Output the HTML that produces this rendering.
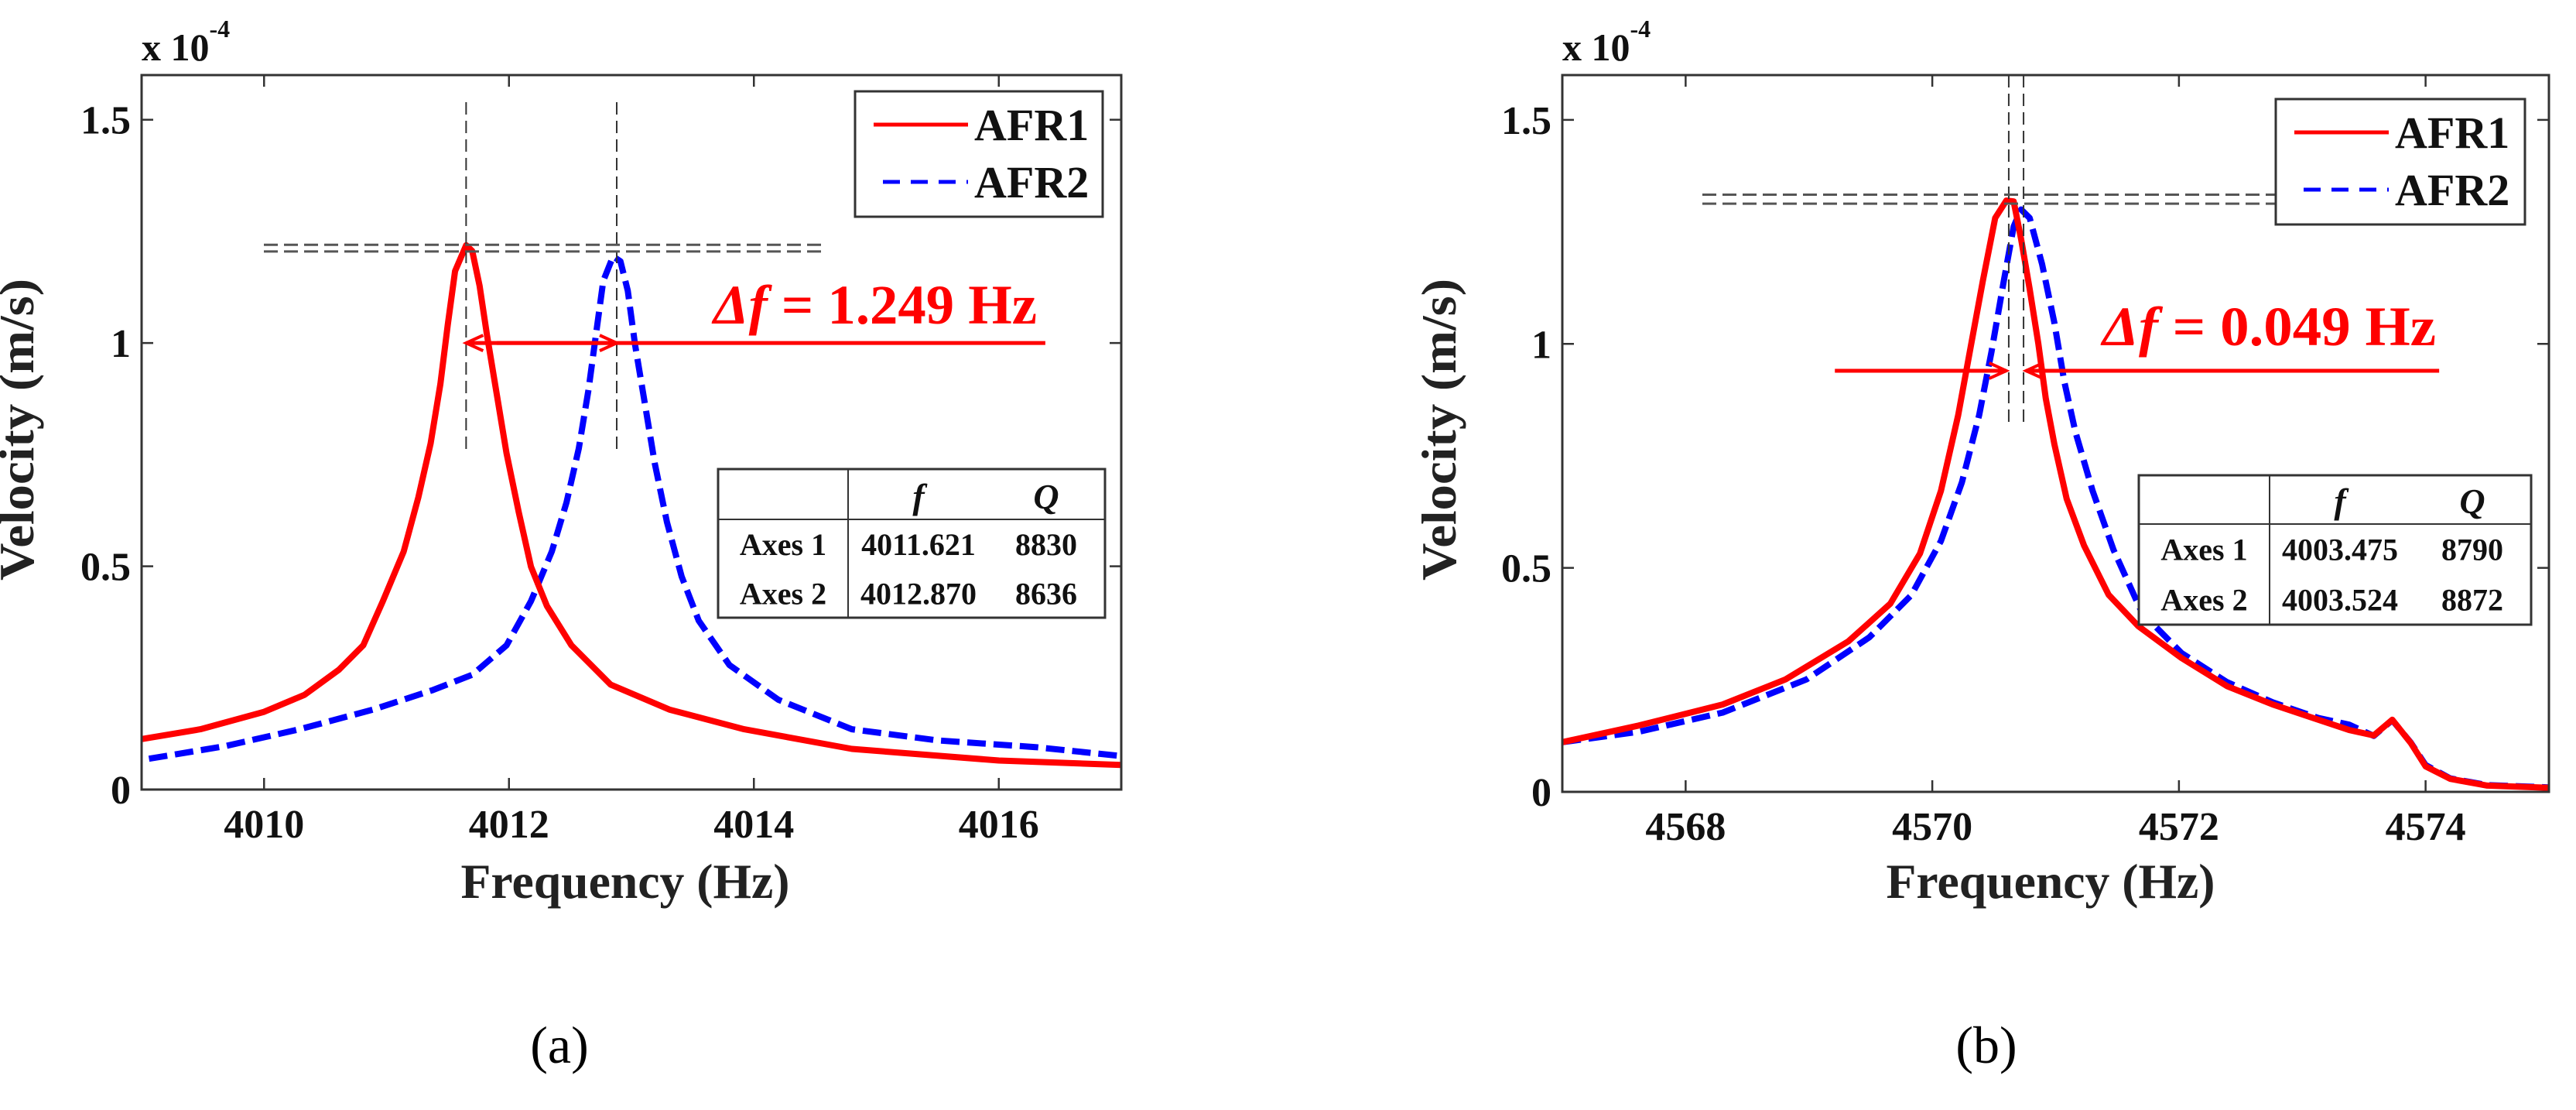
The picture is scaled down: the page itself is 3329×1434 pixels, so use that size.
<!DOCTYPE html>
<html><head><meta charset="utf-8"><style>
html,body{margin:0;padding:0;background:#fff;}
svg{display:block;font-family:"Liberation Serif",serif;}
</style></head><body>
<svg id="fig" width="3329" height="1434" viewBox="0 0 3329 1434" xmlns="http://www.w3.org/2000/svg"></svg>
<script>
// Panel (a)
const freqA1 = [4009.0,4009.48,4010.0,4010.33,4010.61,4010.81,4010.97,4011.14,4011.26,4011.36,4011.44,4011.50,4011.56,4011.65,4011.70,4011.76,4011.82,4011.90,4011.98,4012.08,4012.18,4012.31,4012.51,4012.83,4013.31,4013.92,4014.80,4016.0,4017.0];
const velA1 = [0.113,0.135,0.174,0.212,0.268,0.323,0.422,0.533,0.654,0.775,0.908,1.040,1.161,1.219,1.206,1.128,1.018,0.886,0.753,0.621,0.499,0.411,0.323,0.235,0.179,0.135,0.091,0.065,0.055];
const freqA2 = [4009.06,4009.68,4010.29,4010.89,4011.38,4011.70,4011.98,4012.18,4012.35,4012.47,4012.57,4012.65,4012.71,4012.77,4012.85,4012.91,4012.97,4013.03,4013.11,4013.19,4013.29,4013.41,4013.55,4013.80,4014.20,4014.80,4015.5,4016.3,4017.0];
const velA2 = [0.069,0.097,0.135,0.179,0.223,0.257,0.323,0.422,0.533,0.643,0.764,0.896,1.018,1.139,1.194,1.183,1.117,0.996,0.864,0.731,0.599,0.477,0.378,0.279,0.201,0.135,0.11,0.095,0.075];
// Panel (b)
const freqB1 = [4567.0,4567.62,4568.30,4568.81,4569.32,4569.66,4569.90,4570.07,4570.21,4570.31,4570.41,4570.51,4570.60,4570.66,4570.72,4570.79,4570.86,4570.92,4570.99,4571.09,4571.23,4571.43,4571.67,4572.02,4572.39,4572.76,4573.13,4573.38,4573.58,4573.73,4573.88,4574.0,4574.2,4574.5,4575.0];
const velB1 = [0.111,0.148,0.195,0.251,0.336,0.42,0.532,0.672,0.841,0.991,1.141,1.281,1.320,1.318,1.234,1.122,1.000,0.878,0.776,0.654,0.55,0.44,0.37,0.299,0.236,0.195,0.161,0.138,0.126,0.161,0.109,0.057,0.029,0.014,0.009];
const freqB2 = [4567.0,4567.62,4568.30,4568.98,4569.49,4569.83,4570.07,4570.24,4570.38,4570.48,4570.58,4570.66,4570.72,4570.79,4570.89,4570.99,4571.07,4571.16,4571.30,4571.47,4571.70,4572.02,4572.39,4572.76,4573.13,4573.38,4573.58,4573.73,4573.88,4574.0,4574.2,4574.5,4575.0];
const velB2 = [0.111,0.134,0.177,0.251,0.345,0.439,0.56,0.691,0.841,0.982,1.141,1.262,1.30,1.281,1.178,1.047,0.916,0.804,0.672,0.54,0.40,0.31,0.245,0.2,0.165,0.15,0.125,0.16,0.11,0.06,0.03,0.015,0.01];
const yTicks = [0,0.5,1,1.5];
const yTickLabels = ["0","0.5","1","1.5"];
const xTicksA = [4010,4012,4014,4016];
const xTicksB = [4568,4570,4572,4574];
const peaksA = [4011.65,4012.88];
const peakValsA = [1.22,1.205];
const peaksB = [4570.62,4570.74];
const peakValsB = [1.333,1.313];
const tableA = [["Axes 1","4011.621","8830"],["Axes 2","4012.870","8636"]];
const tableB = [["Axes 1","4003.475","8790"],["Axes 2","4003.524","8872"]];

const NS="http://www.w3.org/2000/svg";
const svg=document.getElementById('fig');
function mk(tag,attrs,parent,text){const e=document.createElementNS(NS,tag);for(const k in attrs)e.setAttribute(k,attrs[k]);if(text!==undefined)e.textContent=text;(parent||svg).appendChild(e);return e;}

function panel(cfg){
  const g=mk('g',{});
  
  
  const L=cfg.left,R=cfg.right,T=97,B=cfg.bottom;
  const xs=f=>L+(f-cfg.xmin)/(cfg.xmax-cfg.xmin)*(R-L);
  const ys=v=>B-v/1.6*(B-T);
  const p1=cfg.f1.map((f,i)=>xs(f).toFixed(1)+','+ys(cfg.v1[i]).toFixed(1)).join(' ');
  const p2=cfg.f2.map((f,i)=>xs(f).toFixed(1)+','+ys(cfg.v2[i]).toFixed(1)).join(' ');
  const c2=mk('polyline',{points:p2,fill:'none',stroke:'#0000ff','stroke-width':8,'stroke-dasharray':'24 10','stroke-linejoin':'round'},g);
  
  
  const c1=mk('polyline',{points:p1,fill:'none',stroke:'#ff0000','stroke-width':8,'stroke-linejoin':'round'},g);
  
  
  cfg.peaks.forEach(pf=>{const l=mk('line',{x1:xs(pf),x2:xs(pf),y1:cfg.vTop,y2:cfg.vBot,stroke:'#333','stroke-width':2,'stroke-dasharray':'16 8'},g);
    
    });
  cfg.peakVals.forEach(pv=>{const l=mk('line',{x1:cfg.hx1,x2:cfg.hx2,y1:ys(pv),y2:ys(pv),stroke:'#555','stroke-width':3,'stroke-dasharray':'18 8'},g);
    
    });
  const ay=ys(cfg.arrowV);
  cfg.arrows.forEach(a=>{
    const l=mk('line',{x1:xs(a[0]),x2:xs(a[1]),y1:ay,y2:ay,stroke:'#ff0000','stroke-width':5},g);
    
    
    const tx=xs(a[1]),d=a[1]>a[0]?-1:1;
    const h=mk('polyline',{points:`${tx+d*22},${ay-10} ${tx},${ay} ${tx+d*22},${ay+10}`,fill:'none',stroke:'#ff0000','stroke-width':4},g);
    
    
  });
  const dt=mk('text',{x:cfg.dfx,y:cfg.dfy,fill:'#ff0000','font-size':72,'font-weight':'bold',textLength:cfg.dfw,lengthAdjust:'spacingAndGlyphs'},g);
  
  
  mk('tspan',{'font-style':'italic'},dt,'Δf');
  mk('tspan',{},dt,' = '+cfg.dfText+'  Hz');
  const box=mk('rect',{x:L,y:T,width:R-L,height:B-T,fill:'none',stroke:'#333','stroke-width':3},g);
  
  
  cfg.xt.forEach(t=>{const x=xs(t);
    mk('line',{x1:x,x2:x,y1:B,y2:B-15,stroke:'#333','stroke-width':2.5},g);
    mk('line',{x1:x,x2:x,y1:T,y2:T+15,stroke:'#333','stroke-width':2.5},g);
    const tl=mk('text',{x:x,y:cfg.xlabY,'text-anchor':'middle','font-size':52,'font-weight':'bold',fill:'#111'},g,String(t));
    
    });
  yTicks.forEach((t,i)=>{const y=ys(t);
    mk('line',{x1:L,x2:L+15,y1:y,y2:y,stroke:'#333','stroke-width':2.5},g);
    mk('line',{x1:R,x2:R-15,y1:y,y2:y,stroke:'#333','stroke-width':2.5},g);
    const tl=mk('text',{x:L-14,y:y+18,'text-anchor':'end','font-size':52,'font-weight':'bold',fill:'#111'},g,yTickLabels[i]);
    
    });
  const ex=mk('text',{x:L,y:78,'font-size':50,'font-weight':'bold',fill:'#111'},g);
  
  
  mk('tspan',{},ex,'x 10');
  mk('tspan',{dy:-30,'font-size':32},ex,'-4');
  const xl=mk('text',{x:cfg.xTitleX,y:1160,'text-anchor':'middle','font-size':64,'font-weight':'bold',fill:'#222',textLength:425,lengthAdjust:'spacingAndGlyphs'},g,'Frequency (Hz)');
  
  
  const yl=mk('text',{x:0,y:0,'text-anchor':'middle','font-size':64,'font-weight':'bold',fill:'#222',textLength:390,lengthAdjust:'spacingAndGlyphs',transform:`translate(${cfg.yTitleX},555) rotate(-90)`},g,'Velocity (m/s)');
  
  
  const lg=mk('g',{},g);
  
  
  mk('rect',{x:cfg.lg[0],y:cfg.lg[1],width:cfg.lg[2]-cfg.lg[0],height:cfg.lg[3]-cfg.lg[1],fill:'#fff',stroke:'#333','stroke-width':3},lg);
  const y1=cfg.lg[1]+43,y2=cfg.lg[1]+117,lx=cfg.lg[0]+24;
  mk('line',{x1:lx,x2:lx+122,y1:y1,y2:y1,stroke:'#ff0000','stroke-width':5},lg);
  mk('line',{x1:lx+12,x2:lx+122,y1:y2,y2:y2,stroke:'#0000ff','stroke-width':5,'stroke-dasharray':'22 14'},lg);
  const e1=mk('text',{x:lx+130,y:y1+20,'font-size':58,'font-weight':'bold',fill:'#111'},lg,'AFR1');
  
  
  const e2=mk('text',{x:lx+130,y:y2+20,'font-size':58,'font-weight':'bold',fill:'#111'},lg,'AFR2');
  
  
  const tb=mk('g',{},g);
  
  
  const [tx1,ty1,tx2,ty2,tdiv,thead]=cfg.tb;
  mk('rect',{x:tx1,y:ty1,width:tx2-tx1,height:ty2-ty1,fill:'#fff',stroke:'#333','stroke-width':3},tb);
  mk('line',{x1:tdiv,x2:tdiv,y1:ty1,y2:ty2,stroke:'#333','stroke-width':2},tb);
  mk('line',{x1:tx1,x2:tx2,y1:thead,y2:thead,stroke:'#333','stroke-width':2},tb);
  const cx=[(tx1+tdiv)/2,cfg.fx,cfg.qx];
  mk('text',{x:cfg.fx,y:thead-14,'text-anchor':'middle','font-size':46,'font-style':'italic','font-weight':'bold',fill:'#111'},tb,'f');
  mk('text',{x:cfg.qx,y:thead-14,'text-anchor':'middle','font-size':46,'font-style':'italic','font-weight':'bold',fill:'#111'},tb,'Q');
  const rh=(ty2-thead)/2;
  cfg.table.forEach((row,r)=>row.forEach((c,k)=>{
    const t=mk('text',{x:cx[k],y:thead+rh*(r+0.5)+14,'text-anchor':'middle','font-size':40,'font-weight':'bold',fill:'#111'},tb,c);
    
    }));
  const cap=mk('text',{x:cfg.capX,y:1373,'text-anchor':'middle','font-size':68,fill:'#000'},g,cfg.cap);
  
  
}

panel({name:'panel-a',left:183,right:1449,bottom:1020,xmin:4009,xmax:4017,f1:freqA1,v1:velA1,f2:freqA2,v2:velA2,
  peaks:peaksA,peakVals:peakValsA,vTop:132,vBot:581,hx1:341,hx2:1066,arrowV:1.0,arrows:[[4016.38,4011.65],[4011.9,4012.88]],
  dfx:922,dfy:418,dfw:418,dfText:'1.249',xt:xTicksA,xlabY:1082,xTitleX:808,yTitleX:43,lg:[1105,118,1425,280],
  tb:[928,606,1428,798,1096,671],fx:1187,qx:1352,table:tableA,capX:723,cap:'(a)'});
panel({name:'panel-b',left:2019,right:3294,bottom:1023,xmin:4567,xmax:4575,f1:freqB1,v1:velB1,f2:freqB2,v2:velB2,
  peaks:peaksB,peakVals:peakValsB,vTop:97,vBot:550,hx1:2200,hx2:2941,arrowV:0.94,arrows:[[4569.21,4570.6],[4574.11,4570.76]],
  dfx:2717,dfy:446,dfw:431,dfText:'0.049',xt:xTicksB,xlabY:1085,xTitleX:2650,yTitleX:1881,lg:[2941,128,3263,290],
  tb:[2764,614,3271,807,2933,677],fx:3024,qx:3195,table:tableB,capX:2567,cap:'(b)'});
</script>
</body></html>
